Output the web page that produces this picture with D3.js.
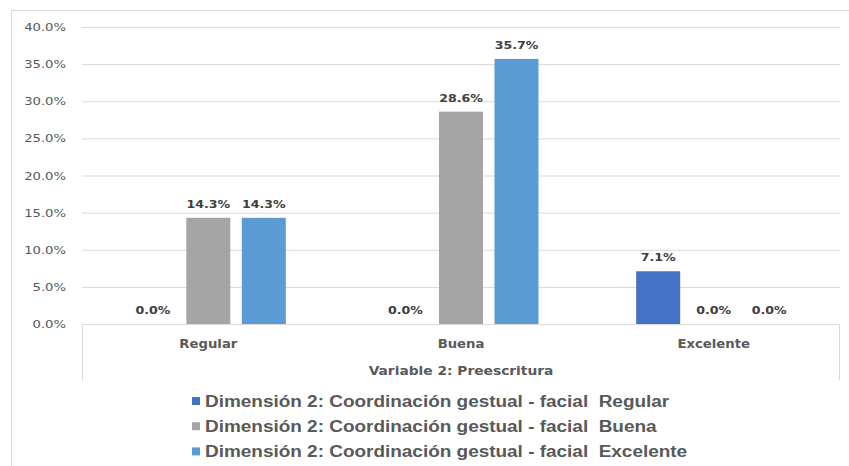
<!DOCTYPE html>
<head>
  <meta charset="utf-8">
  <script src="https://d3js.org/d3.v7.min.js"></script>
  <style>
    body { margin:0; background:white; }
    svg { display:block; }
    .tick text { font-family: "DejaVu Sans", sans-serif; }
  </style>
</head>
<body>
<script>
  var categories = ["Regular", "Buena", "Excelente"];
  var seriesNames = [
    "Dimensión 2: Coordinación gestual - facial  Regular",
    "Dimensión 2: Coordinación gestual - facial  Buena",
    "Dimensión 2: Coordinación gestual - facial  Excelente"
  ];
  // one array per series, in category order
  var serieRegular = [0.0, 0.0, 7.1];
  var serieBuena = [14.3, 28.6, 0.0];
  var serieExcelente = [14.3, 35.7, 0.0];
  var yTicks = [0, 5, 10, 15, 20, 25, 30, 35, 40];
  var axisTitle = "Variable 2: Preescritura";

  var colors = ["#4472C4", "#A5A5A5", "#5B9BD5"];
  var allSeries = [serieRegular, serieBuena, serieExcelente];

  // the original picture is stretched sideways, so text gets a horizontal stretch too
  var sx = 1.2;

  var width = 849, height = 466;
  var svg = d3.select("body").append("svg")
    .attr("width", width)
    .attr("height", height);

  // chart frame (cropped on right and bottom)
  svg.append("rect")
    .attr("x", 11.5).attr("y", 10.5)
    .attr("width", 900).attr("height", 500)
    .attr("fill", "none")
    .attr("stroke", "#d9d9d9");

  var plotLeft = 82, plotRight = 840, plotTop = 27, plotBottom = 324;

  var x0 = d3.scaleBand().domain(categories).range([plotLeft, plotRight]);
  var x1 = d3.scaleBand().domain(d3.range(seriesNames.length))
    .range([0, x0.bandwidth()])
    .paddingInner(0.207)
    .paddingOuter(0.88);
  var y = d3.scaleLinear().domain([0, 40]).range([plotBottom, plotTop]);

  function place(x, yy, s) {
    return "translate(" + x + "," + yy + ") scale(" + (s || sx) + ",1)";
  }

  // gridlines + y labels
  var yAxis = svg.append("g")
    .attr("transform", "translate(" + plotLeft + ",0)")
    .call(d3.axisLeft(y).tickValues(yTicks)
      .tickSize(-(plotRight - plotLeft))
      .tickPadding(16)
      .tickFormat(function(d) { return d.toFixed(1) + "%"; }));
  yAxis.select(".domain").remove();
  yAxis.selectAll(".tick line").attr("stroke", "#d9d9d9");
  yAxis.selectAll(".tick text")
    .attr("x", 0)
    .attr("transform", place(-16, 0))
    .attr("fill", "#595959")
    .style("font-size", "11px");

  // category box
  svg.append("path")
    .attr("d", "M" + (plotLeft + 0.5) + "," + 380 + "V" + (plotBottom + 0.5) + "H" + (plotRight - 0.5) + "V" + 380)
    .attr("fill", "none")
    .attr("stroke", "#d9d9d9");

  // bars
  var groups = svg.selectAll("g.cat")
    .data(categories)
    .enter().append("g")
    .attr("class", "cat")
    .attr("transform", function(d) { return "translate(" + x0(d) + ",0)"; });

  function rows(d, i) {
    return allSeries.map(function(s, j) { return { s: j, v: s[i] }; });
  }

  groups.selectAll("rect")
    .data(rows)
    .enter().append("rect")
    .attr("x", function(d) { return x1(d.s); })
    .attr("width", x1.bandwidth())
    .attr("y", function(d) { return y(d.v); })
    .attr("height", function(d) { return y(0) - y(d.v); })
    .attr("fill", function(d) { return colors[d.s]; });

  groups.selectAll("text")
    .data(rows)
    .enter().append("text")
    .attr("transform", function(d) { return place(x1(d.s) + x1.bandwidth() / 2, y(d.v) - 10); })
    .attr("text-anchor", "middle")
    .style("font-family", "DejaVu Sans, sans-serif")
    .style("font-weight", "bold")
    .style("font-size", "10.5px")
    .attr("fill", "#404040")
    .text(function(d) { return d.v.toFixed(1) + "%"; });

  // category labels
  svg.selectAll("text.catlabel")
    .data(categories)
    .enter().append("text")
    .attr("class", "catlabel")
    .attr("transform", function(d) { return place(x0(d) + x0.bandwidth() / 2, 347.5, 1.15); })
    .attr("text-anchor", "middle")
    .style("font-family", "DejaVu Sans, sans-serif")
    .style("font-weight", "bold")
    .style("font-size", "11.5px")
    .attr("fill", "#595959")
    .text(function(d) { return d; });

  svg.append("text")
    .attr("transform", place((plotLeft + plotRight) / 2, 375))
    .attr("text-anchor", "middle")
    .style("font-family", "DejaVu Sans, sans-serif")
    .style("font-weight", "bold")
    .style("font-size", "11.5px")
    .attr("fill", "#595959")
    .text(axisTitle);

  // legend
  var legend = svg.selectAll("g.legend")
    .data(seriesNames)
    .enter().append("g")
    .attr("class", "legend")
    .attr("transform", function(d, i) { return "translate(192," + (401 + i * 25.2) + ")"; });

  legend.append("rect")
    .attr("x", 0).attr("y", -4)
    .attr("width", 8).attr("height", 8)
    .attr("fill", function(d, i) { return colors[i]; });

  legend.append("text")
    .attr("transform", place(13, 0))
    .attr("dy", "0.36em")
    .style("white-space", "pre")
    .style("font-family", "Liberation Sans, Arial, sans-serif")
    .style("font-weight", "bold")
    .style("font-size", "15.8px")
    .attr("fill", "#595959")
    .text(function(d) { return d; });
</script>
</body>
